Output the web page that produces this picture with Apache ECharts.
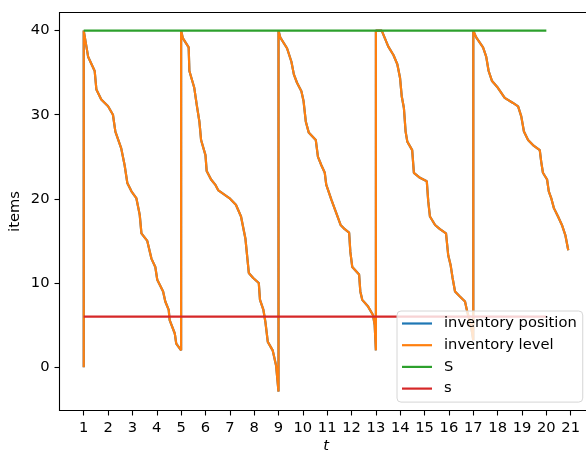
<!DOCTYPE html>
<html>
<head>
<meta charset="utf-8">
<script src="https://cdn.jsdelivr.net/npm/echarts@6/dist/echarts.min.js"></script>
<style>html,body{margin:0;padding:0;background:#fff;}#chart{width:586px;height:450px;}</style>
</head>
<body>
<div id="chart"></div>
<script>
// cycle data (t, items)
const c1T = [1, 1, 1.18, 1.45, 1.52, 1.72, 2.0, 2.2, 2.30, 2.54, 2.68, 2.79, 2.96, 3.16, 3.30, 3.37, 3.61, 3.78, 3.94, 4.02, 4.26, 4.35, 4.49, 4.53, 4.74, 4.80, 5.0];
const c1V = [0, 40, 36.9, 35.2, 33.0, 31.8, 31.0, 30.0, 28.0, 26.0, 24.0, 21.9, 20.9, 20.1, 18.1, 15.9, 15.0, 12.9, 11.9, 10.4, 9.0, 7.8, 6.8, 5.6, 4.0, 2.8, 2.0];
const c2T = [5, 5.07, 5.31, 5.34, 5.54, 5.64, 5.75, 5.82, 6.0, 6.05, 6.23, 6.40, 6.53, 6.98, 7.25, 7.46, 7.64, 7.78, 7.96, 8.19, 8.24, 8.38, 8.46, 8.56, 8.76, 8.90, 9.0];
const c2V = [40, 39.1, 38.0, 35.2, 33.2, 31.2, 29.2, 27.0, 25.2, 23.3, 22.3, 21.7, 21.0, 20.1, 19.3, 17.9, 15.3, 11.2, 10.6, 10.0, 8.0, 6.8, 5.4, 3.0, 2.0, 0.2, -2.9];
const c3T = [9, 9.07, 9.35, 9.53, 9.63, 9.76, 9.94, 10.03, 10.12, 10.24, 10.53, 10.62, 10.76, 10.9, 10.96, 11.17, 11.40, 11.55, 11.72, 11.90, 11.95, 12.03, 12.31, 12.36, 12.44, 12.68, 12.88, 12.95, 13.0];
const c3V = [40, 39.2, 37.9, 36.3, 34.8, 33.8, 32.8, 31.6, 29.2, 27.9, 27.0, 25.0, 24.0, 23.1, 21.7, 19.9, 18.1, 16.9, 16.4, 16.0, 13.7, 11.9, 11.0, 9.0, 8.0, 7.2, 6.2, 5.0, 2.0];
const c4T = [13, 13.24, 13.51, 13.72, 13.88, 13.99, 14.06, 14.15, 14.22, 14.29, 14.49, 14.56, 14.81, 15.09, 15.15, 15.22, 15.43, 15.63, 15.88, 15.97, 16.07, 16.15, 16.25, 16.45, 16.66, 16.75, 16.9, 17.0];
const c4V = [40, 40, 38.1, 37.1, 36.0, 34.4, 32.2, 30.8, 28.0, 26.8, 25.8, 23.1, 22.5, 22.1, 19.7, 17.9, 16.9, 16.4, 15.9, 13.3, 12.1, 10.6, 9.0, 8.4, 7.8, 6.6, 5.0, 3.2];
const c5T = [17, 17.12, 17.40, 17.53, 17.63, 17.77, 18.01, 18.29, 18.63, 18.84, 18.97, 19.08, 19.25, 19.45, 19.73, 19.79, 19.86, 20.03, 20.10, 20.20, 20.31, 20.48, 20.64, 20.78, 20.90];
const c5V = [40, 39.2, 38.0, 36.9, 35.2, 34.0, 33.2, 32.0, 31.4, 31.0, 29.8, 28.0, 27.0, 26.4, 25.8, 24.4, 23.1, 22.3, 20.9, 20.1, 18.9, 17.9, 16.9, 15.7, 13.9];
const policyT = [1, 20];
const S = 40;
const s = 6;
const xTicks = [1,2,3,4,5,6,7,8,9,10,11,12,13,14,15,16,17,18,19,20,21];
const yTicks = [0, 10, 20, 30, 40];

const allT = [].concat(c1T, c2T, c3T, c4T, c5T);
const allV = [].concat(c1V, c2V, c3V, c4V, c5V);
const levelData = allT.map((t, i) => [t, allV[i]]);
const positionData = levelData.slice();
const SData = policyT.map(t => [t, S]);
const sData = policyT.map(t => [t, s]);

const FONT = 'DejaVu Sans';
const FS = 14.7;
const chart = echarts.init(document.getElementById('chart'), null, {renderer: 'canvas'});
const lineSeries = (name, data, color) => ({
  name, type: 'line', data, showSymbol: false, symbol: 'none',
  lineStyle: {color, width: 2.2}, itemStyle: {color}, animation: false
});
chart.setOption({
  animation: false,
  textStyle: {fontFamily: FONT},
  grid: {left: 59.5, top: 12.5, right: -6.6, bottom: 39.5, show: true, borderColor: '#000', borderWidth: 1.1, backgroundColor: 'transparent', outerBoundsMode: 'none', containLabel: false},
  xAxis: {
    type: 'value', min: 0.005, max: 21.9,
    name: 't', nameLocation: 'middle', nameGap: 28, nameMoveOverlap: false,
    nameTextStyle: {fontFamily: FONT, fontSize: FS, fontStyle: 'italic', color: '#000'},
    axisLine: {show: false, onZero: false},
    axisTick: {show: true, length: 5, lineStyle: {color: '#000', width: 1.1}, customValues: xTicks},
    axisLabel: {color: '#000', fontFamily: FONT, fontSize: FS, margin: 10, customValues: xTicks},
    splitLine: {show: false}
  },
  yAxis: {
    type: 'value', min: -5.15, max: 42.15,
    name: 'items', nameLocation: 'middle', nameGap: 37, nameRotate: 90, nameMoveOverlap: false,
    nameTextStyle: {fontFamily: FONT, fontSize: FS, color: '#000'},
    axisLine: {show: false, onZero: false},
    axisTick: {show: true, length: 5, lineStyle: {color: '#000', width: 1.1}, customValues: yTicks},
    axisLabel: {color: '#000', fontFamily: FONT, fontSize: FS, margin: 10, customValues: yTicks},
    splitLine: {show: false}
  },
  legend: {
    orient: 'vertical', left: 397, top: 311,
    padding: [5, 6, 6, 5],
    itemWidth: 30, itemHeight: 2.2, itemGap: 6.7,
    icon: 'rect',
    backgroundColor: 'rgba(255,255,255,0.8)',
    borderColor: '#d6d6d6', borderWidth: 1, borderRadius: 4,
    textStyle: {fontFamily: FONT, fontSize: FS, color: '#000', padding: [0, 0, 0, 7]},
    data: ['inventory position', 'inventory level', 'S', 's']
  },
  series: [
    lineSeries('inventory position', positionData, '#1f77b4'),
    lineSeries('inventory level', levelData, '#ff7f0e'),
    lineSeries('S', SData, '#2ca02c'),
    lineSeries('s', sData, '#d62728')
  ]
});
</script>
</body>
</html>
